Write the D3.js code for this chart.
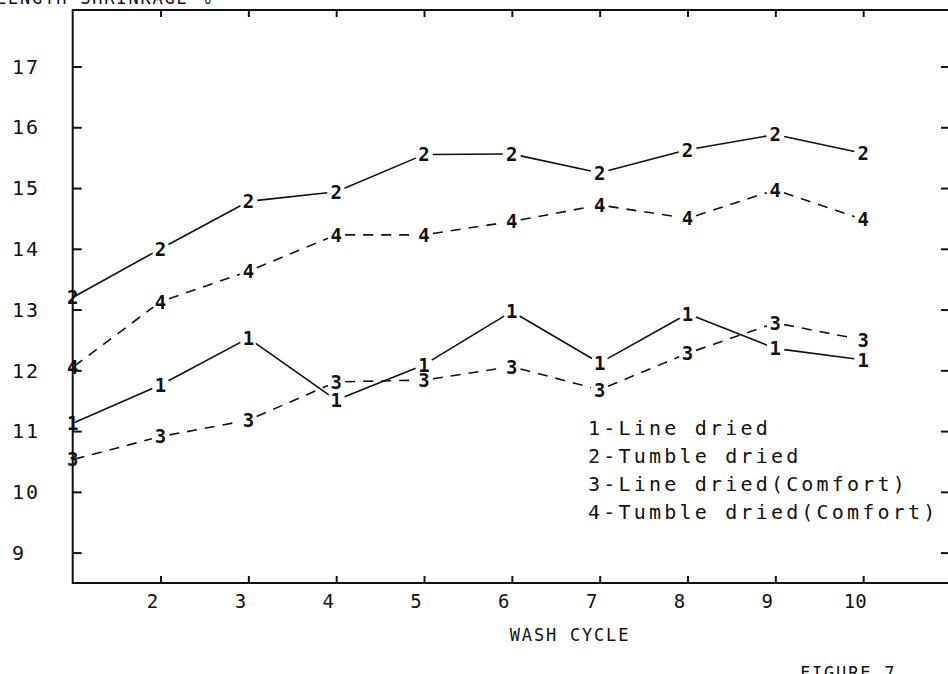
<!DOCTYPE html>
<html>
<head>
<meta charset="utf-8">
<script src="https://cdn.jsdelivr.net/npm/d3@7"></script>
<style>
  body { margin: 0; background: #fff; }
  svg { display: block; }
  .plot-text { font-family: "DejaVu Sans Mono", monospace; fill: #111; }
</style>
</head>
<body>
<div id="chart"></div>
<script>
// wash cycles and shrinkage values (%)
var washCycle = [1, 2, 3, 4, 5, 6, 7, 8, 9, 10];
var lineDried = [11.13, 11.76, 12.53, 11.51, 12.09, 12.97, 12.12, 12.93, 12.36, 12.17];
var tumbleDried = [13.2, 14.0, 14.78, 14.94, 15.55, 15.56, 15.25, 15.63, 15.88, 15.57];
var lineComfort = [10.53, 10.91, 11.18, 11.81, 11.84, 12.06, 11.68, 12.28, 12.78, 12.5];
var tumbleComfort = [12.05, 13.13, 13.63, 14.23, 14.23, 14.45, 14.72, 14.5, 14.97, 14.48];

var xTicks = [2, 3, 4, 5, 6, 7, 8, 9, 10];
var yTicks = [9, 10, 11, 12, 13, 14, 15, 16, 17];
var legendLabels = ["1-Line dried", "2-Tumble dried", "3-Line dried(Comfort)", "4-Tumble dried(Comfort)"];

var series = [
  { mark: "1", values: lineDried, dashed: false },
  { mark: "2", values: tumbleDried, dashed: false },
  { mark: "3", values: lineComfort, dashed: true },
  { mark: "4", values: tumbleComfort, dashed: true }
];

var width = 948, height = 674;

var svg = d3.select("#chart").append("svg")
  .attr("width", width).attr("height", height);

var x = d3.scaleLinear().domain([1, 11]).range([72.7, 951]);
var y = d3.scaleLinear().domain([8.5, 17.93]).range([583, 10]);

// frame
svg.append("rect")
  .attr("x", x(1)).attr("y", y(17.93))
  .attr("width", x(11) - x(1)).attr("height", y(8.5) - y(17.93))
  .attr("fill", "none").attr("stroke", "#111").attr("stroke-width", 2);

function styleAxis(g) {
  g.select(".domain").remove();
  g.selectAll(".tick line").attr("stroke", "#111").attr("stroke-width", 2);
}

// inward ticks on all four sides
svg.append("g").attr("transform", "translate(" + x(1) + ",0)")
  .call(d3.axisRight(y).tickValues(yTicks).tickSize(9).tickFormat(""))
  .call(styleAxis);
svg.append("g").attr("transform", "translate(" + x(11) + ",0)")
  .call(d3.axisLeft(y).tickValues(yTicks).tickSize(10).tickFormat(""))
  .call(styleAxis);
svg.append("g").attr("transform", "translate(0," + y(8.5) + ")")
  .call(d3.axisTop(x).tickValues(xTicks).tickSize(7).tickFormat(""))
  .call(styleAxis);
svg.append("g").attr("transform", "translate(0," + y(17.93) + ")")
  .call(d3.axisBottom(x).tickValues(xTicks).tickSize(7).tickFormat(""))
  .call(styleAxis);

// tick labels, plotter style
svg.selectAll(".ylab").data(yTicks).enter().append("text")
  .attr("class", "plot-text ylab")
  .attr("x", 12).attr("y", function(d) { return y(d); })
  .attr("dy", "0.36em")
  .style("font-size", "20px").style("letter-spacing", "2px")
  .text(function(d) { return d; });

svg.selectAll(".xlab").data(xTicks).enter().append("text")
  .attr("class", "plot-text xlab")
  .attr("x", function(d) { return x(d) - 8; }).attr("y", 608)
  .attr("text-anchor", "middle")
  .style("font-size", "19px")
  .text(function(d) { return d; });

svg.append("text").attr("class", "plot-text")
  .attr("x", 570).attr("y", 641).attr("text-anchor", "middle")
  .style("font-size", "17px").style("letter-spacing", "1.8px")
  .text("WASH CYCLE");

svg.append("text").attr("class", "plot-text")
  .attr("x", -4).attr("y", 4)
  .style("font-size", "17px").style("letter-spacing", "1.8px")
  .text("LENGTH SHRINKAGE %");

svg.append("text").attr("class", "plot-text")
  .attr("x", 800).attr("y", 679)
  .style("font-size", "17px").style("letter-spacing", "1.8px")
  .text("FIGURE 7");

// series: segments with gaps around the plotted symbol
var gap = 9;
series.forEach(function(s) {
  var pts = washCycle.map(function(c, i) { return [x(c), y(s.values[i])]; });
  var segs = d3.pairs(pts).map(function(p) {
    var dx = p[1][0] - p[0][0], dy = p[1][1] - p[0][1];
    var len = Math.sqrt(dx * dx + dy * dy);
    var ux = dx / len, uy = dy / len;
    var a = (p[0][0] === x(1)) ? 2 : gap;
    return [[p[0][0] + ux * a, p[0][1] + uy * a], [p[1][0] - ux * gap, p[1][1] - uy * gap]];
  });
  svg.append("g").selectAll("path").data(segs).enter().append("path")
    .attr("d", d3.line())
    .attr("fill", "none").attr("stroke", "#111").attr("stroke-width", 1.6)
    .attr("stroke-dasharray", s.dashed ? "10,8" : null);

  svg.append("g").selectAll("text").data(pts).enter().append("text")
    .attr("class", "plot-text")
    .attr("x", function(d) { return d[0]; }).attr("y", function(d) { return d[1]; })
    .attr("dy", "0.36em").attr("text-anchor", "middle")
    .style("font-size", "19px").style("font-weight", "bold")
    .text(s.mark);
});

// legend
svg.selectAll(".leg").data(legendLabels).enter().append("text")
  .attr("class", "plot-text leg")
  .attr("x", 588).attr("y", function(d, i) { return 435 + i * 28; })
  .style("font-size", "20px").style("letter-spacing", "3.2px")
  .text(function(d) { return d; });
</script>
</body>
</html>
